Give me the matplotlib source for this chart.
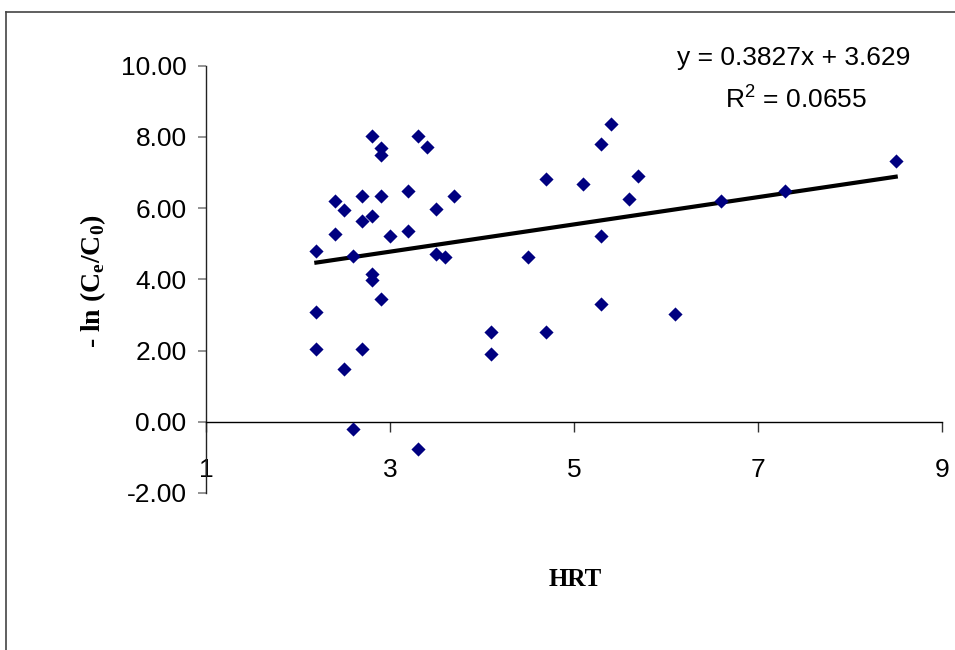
import numpy as np
import matplotlib
matplotlib.use("Agg")
import matplotlib.pyplot as plt
from matplotlib.lines import Line2D

# HRT vs -ln(Ce/C0)
hrt = [2.2, 2.2, 2.2, 2.4, 2.5, 2.4, 2.5, 2.6, 2.6, 2.7, 2.7, 2.7,
       2.8, 2.8, 2.8, 2.8, 2.9, 2.9, 2.9, 2.9, 3.0, 3.2, 3.2, 3.3,
       3.3, 3.4, 3.5, 3.5, 3.6, 3.7, 4.1, 4.1, 4.5, 4.7, 4.7, 5.1,
       5.3, 5.3, 5.3, 5.4, 5.6, 5.7, 6.1, 6.6, 7.3, 8.5]
ln_ratio = [4.79, 3.09, 2.05, 6.19, 5.96, 5.28, 1.49, 4.65, -0.21, 6.33, 5.63, 2.05,
            8.02, 5.77, 4.16, 3.97, 7.68, 7.49, 6.33, 3.44, 5.21, 6.47, 5.35, 8.02,
            -0.77, 7.73, 5.98, 4.72, 4.63, 6.33, 2.53, 1.89, 4.64, 6.82, 2.53, 6.68,
            7.80, 5.21, 3.30, 8.36, 6.26, 6.89, 3.03, 6.19, 6.47, 7.31]

# trendline from the chart's own equation
slope = 0.3827
intercept = 3.629
r2 = 0.0655

xticks = [1, 3, 5, 7, 9]
yticks = [-2, 0, 2, 4, 6, 8, 10]

sans = ['Liberation Sans', 'DejaVu Sans']
serif = ['Liberation Serif', 'DejaVu Serif']

plt.rcParams['mathtext.fontset'] = 'custom'
plt.rcParams['mathtext.rm'] = 'Liberation Sans'
plt.rcParams['mathtext.bf'] = 'Liberation Serif:bold'

fig = plt.figure(figsize=(9.55, 6.5), dpi=100)
ax = fig.add_axes([206 / 955, 157 / 650, 735.7 / 955, 427.3 / 650])

ax.scatter(hrt, ln_ratio, marker='D', s=52, color='#000080', zorder=3, linewidths=0)

xfit = np.array([min(hrt), max(hrt)])
ax.plot(xfit, slope * xfit + intercept, color='black', lw=3.0, zorder=2)

ax.spines['top'].set_visible(False)
ax.spines['right'].set_visible(False)
ax.spines['bottom'].set_position(('data', 0))
ax.spines['bottom'].set_linewidth(1.0)
ax.spines['left'].set_linewidth(1.0)
ax.spines['left'].set_color('#222222')

ax.set_xlim(1, 9)
ax.set_ylim(-2, 10)
ax.set_xticks(xticks)
ax.set_yticks(yticks)
ax.set_xticklabels([str(t) for t in xticks])
ax.set_yticklabels(['%.2f' % t for t in yticks])

ax.tick_params(axis='both', labelsize=19, labelfontfamily=sans)
ax.tick_params(axis='x', direction='out', length=7, width=1, color='#333333', pad=19)
ax.tick_params(axis='y', direction='out', length=6, width=1.2, color='#808080', pad=8)

fig.text(93 / 955, 1 - 281 / 650, r'- ln (C$_\mathbf{e}$/C$_\mathbf{0}$)', rotation=90,
         ha='center', va='center', fontfamily=serif, fontweight='bold', fontsize=20)
fig.text(575 / 955, 1 - 580 / 650, 'HRT', ha='center', va='center',
         fontfamily=serif, fontweight='bold', fontsize=18)

fig.text(794 / 955, 1 - 58 / 650, 'y = %.4fx + %.3f' % (slope, intercept),
         ha='center', va='center', fontfamily=sans, fontsize=19)
fig.text(796 / 955, 1 - 99 / 650, r'R$^2$ = %.4f' % r2,
         ha='center', va='center', fontfamily=sans, fontsize=19)

# chart frame (only left and top edges show)
fig.add_artist(Line2D([6 / 955, 6 / 955], [0, 1 - 12 / 650], transform=fig.transFigure,
                      color='#444444', lw=1.2))
fig.add_artist(Line2D([6 / 955, 1], [1 - 12 / 650, 1 - 12 / 650], transform=fig.transFigure,
                      color='#444444', lw=1.2))

fig.savefig('out.png', dpi=100)
